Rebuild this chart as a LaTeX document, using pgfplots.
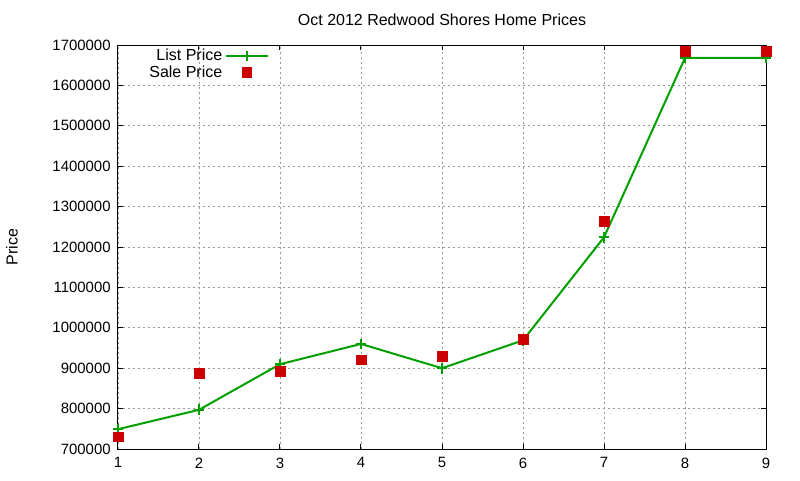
\documentclass[border=0pt]{standalone}
\usepackage{fontspec}
\setmainfont{Liberation Sans}
\usepackage{pgfplots}
\pgfplotsset{compat=1.18}

\definecolor{listgreen}{RGB}{0,160,0}
\definecolor{salered}{RGB}{204,0,0}

\pgfplotsset{
    linelegend/.style={legend image code/.code={
        \draw[##1, mark=none] plot coordinates {(0.25cm,0cm) (1.35cm,0cm)};
        \draw[##1, only marks] plot coordinates {(0.8cm,0cm)};}},
    marklegend/.style={legend image code/.code={
        \draw[##1] plot coordinates {(0.8cm,0cm)};}},
}

% List price and sale price by home
\pgfplotstableread{
n   list     sale
1   749000   730000
2   797000   887000
3   910000   892000
4   960000   921000
5   900000   929000
6   969000   971000
7   1224000  1264000
8   1668000  1685000
9   1668000  1685000
}\prices

\begin{document}
\begin{tikzpicture}
\begin{axis}[
    at={(0,0)}, anchor=south west,
    scale only axis,
    width=486pt, height=303pt,
    font=\fontsize{12pt}{14pt}\selectfont,
    /pgf/number format/assume math mode=true,
    title={Oct 2012 Redwood Shores Home Prices},
    title style={at={(axis description cs:0.5,1)}, anchor=base, yshift=8.75pt},
    ylabel={Price},
    ylabel style={at={(axis description cs:-0.1636,0.5)}, anchor=center},
    xmin=1, xmax=9, ymin=700000, ymax=1700000,
    xtick={1,...,9},
    ytick distance=100000,
    scaled y ticks=false,
    yticklabel style={/pgf/number format/fixed, /pgf/number format/1000 sep=,
        font=\fontsize{11.2pt}{13pt}\selectfont, xshift=-2pt},
    xticklabel style={font=\fontsize{11.2pt}{13pt}\selectfont, yshift=-3pt},
    tick align=inside,
    major tick length=3.75pt,
    tick style={black, line width=0.75pt},
    axis line style={black, line width=0.75pt},
    grid=major,
    major grid style={gray!80, line width=0.6pt, dash pattern=on 1.5pt off 2.25pt},
    legend plot pos=right,
    legend cell align=right,
    legend style={at={(0.235,1.0)}, anchor=north east, draw=none, fill=none,
        inner sep=1pt, row sep=-2pt, font=\fontsize{12pt}{14pt}\selectfont},
]
\addplot[listgreen, line width=1.5pt, mark=+, mark size=4pt,
    mark options={line width=1.5pt}, linelegend]
    table[x=n, y=list] {\prices};
\addlegendentry{List Price}
\addplot[only marks, mark=square*, mark size=3.6pt, salered, marklegend]
    table[x=n, y=sale] {\prices};
\addlegendentry{Sale Price}
\end{axis}
\pgfresetboundingbox
\path (-88.5pt,-23.25pt) rectangle (511.5pt,336.75pt);
\end{tikzpicture}
\end{document}
